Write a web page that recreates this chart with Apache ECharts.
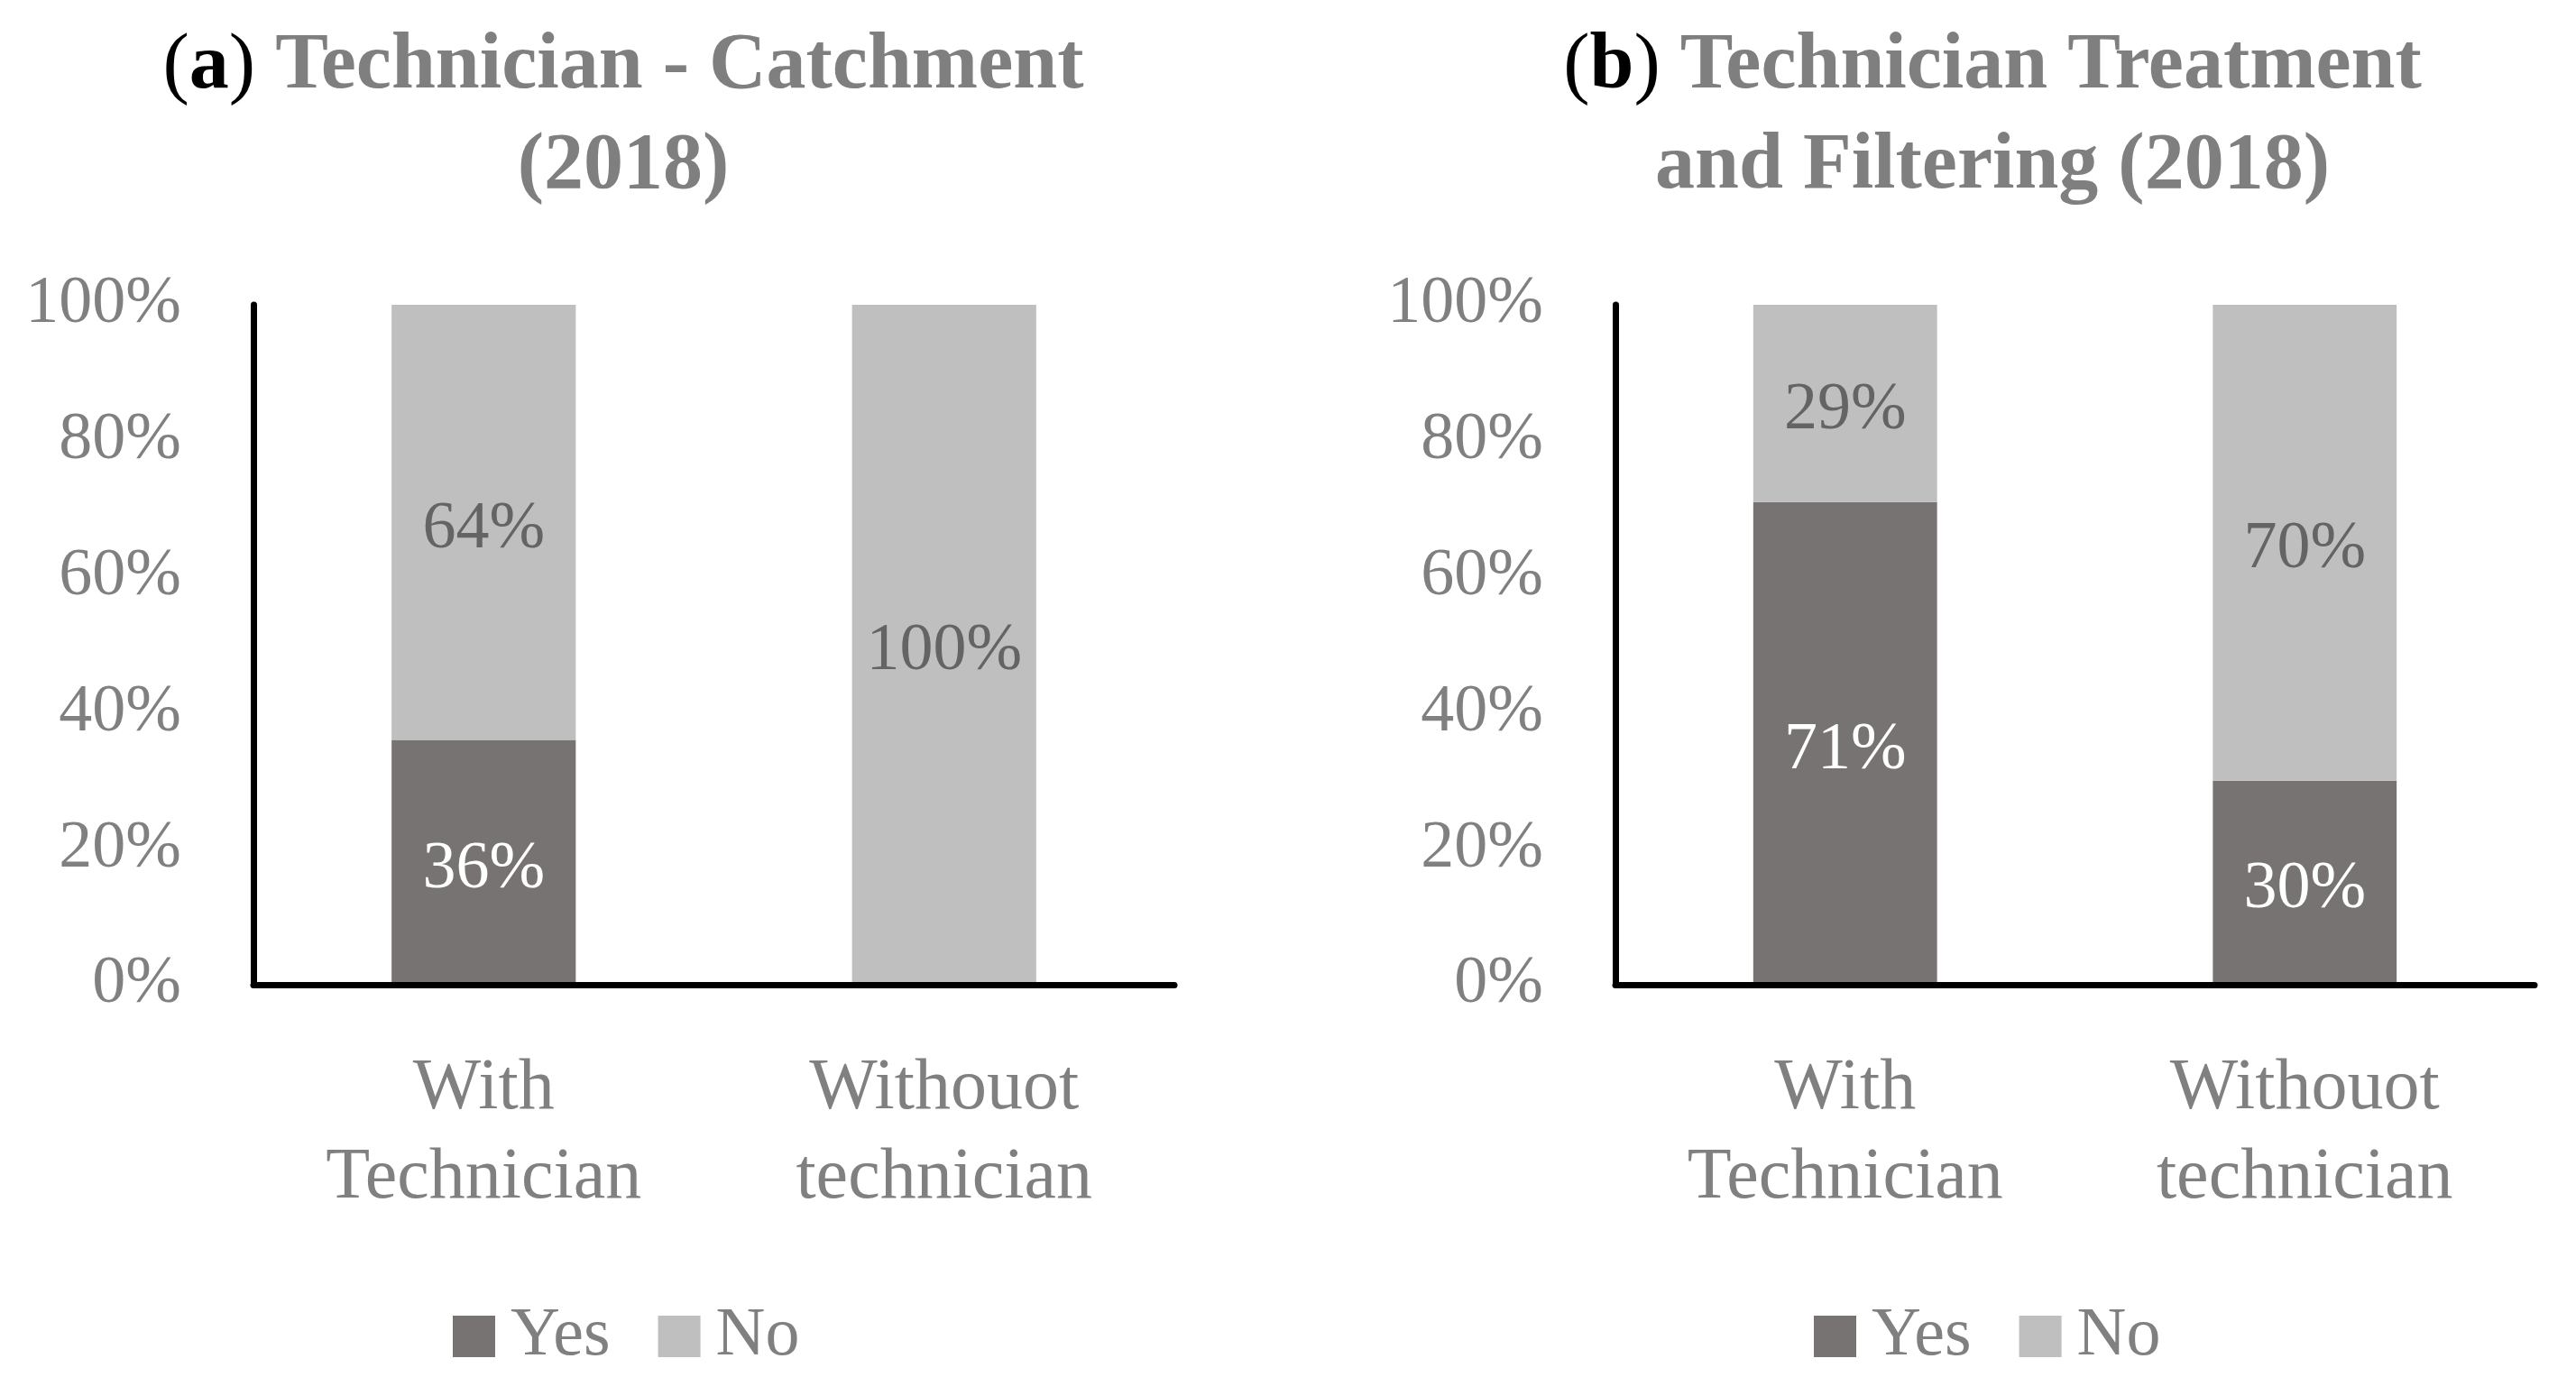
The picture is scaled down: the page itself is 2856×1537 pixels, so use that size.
<!DOCTYPE html>
<html>
<head>
<meta charset="utf-8">
<script src="https://cdn.jsdelivr.net/npm/echarts@6/dist/echarts.min.js"></script>
<style>
html,body{margin:0;padding:0;background:#fff;}
#chart{width:2856px;height:1537px;}
</style>
</head>
<body>
<div id="chart"></div>
<script>
// Data
const categories = ['With\nTechnician', 'Withouot\ntechnician'];
const seriesNames = ['Yes', 'No'];
const catchmentYes = [36, 0];
const catchmentNo = [64, 100];
const treatmentYes = [71, 30];
const treatmentNo = [29, 70];
const yMin = 0, yMax = 100, yInterval = 20;

const FONT = '"Liberation Serif", "DejaVu Serif", serif';
const DARK = '#787373';
const LIGHT = '#bfbfbf';
const TEXT_GRAY = '#808080';

const chart = echarts.init(document.getElementById('chart'));

function titleRich() {
  const base = {fontFamily: FONT, fontSize: 88, lineHeight: 111};
  return {
    p: Object.assign({}, base, {color: '#000', fontWeight: 'normal'}),
    b: Object.assign({}, base, {color: '#000', fontWeight: 'bold'}),
    g: Object.assign({}, base, {color: '#7f7f7f', fontWeight: 'bold'}),
    s: Object.assign({}, base, {color: '#7f7f7f', fontWeight: 'bold'})
  };
}

function yAxis(gridIndex) {
  return {
    type: 'value', gridIndex: gridIndex, min: yMin, max: yMax, interval: yInterval,
    axisLine: {show: true, lineStyle: {color: '#000', width: 7}},
    axisTick: {show: false},
    splitLine: {show: false},
    axisLabel: {formatter: '{value}%', color: TEXT_GRAY, fontFamily: FONT, fontSize: 74, margin: 80},
    z: 5
  };
}
function xAxis(gridIndex) {
  return {
    type: 'category', gridIndex: gridIndex, data: categories,
    axisLine: {show: true, lineStyle: {color: '#000', width: 7}},
    axisTick: {show: false},
    axisLabel: {color: TEXT_GRAY, fontFamily: FONT, fontSize: 80, lineHeight: 99, margin: 66, interval: 0},
    z: 5
  };
}
function labelFmt(p) { return p.value ? p.value + '%' : ''; }
function barSeries(name, data, idx, stack, color, labelColor) {
  return {
    name: name, type: 'bar', stack: stack, xAxisIndex: idx, yAxisIndex: idx,
    data: data, barWidth: '40%',
    itemStyle: {color: color},
    label: {show: true, position: 'inside', offset: [0, 8], formatter: labelFmt, color: labelColor, fontFamily: FONT, fontSize: 74},
    emphasis: {disabled: true}
  };
}
function legend(left) {
  return {
    left: left, top: 1439, orient: 'horizontal', data: seriesNames,
    itemWidth: 47, itemHeight: 46, itemGap: 53, icon: 'rect',
    textStyle: {color: TEXT_GRAY, fontFamily: FONT, fontSize: 76, lineHeight: 76, padding: [0, 0, 0, 12]},
    selectedMode: false
  };
}

chart.setOption({
  animation: false,
  backgroundColor: '#fff',
  title: [
    {
      text: '{p|(}{b|a}{p|)} {g|Technician - Catchment}\n{s|(2018)}',
      left: 686, top: 14, textAlign: 'center',
      textStyle: {rich: titleRich(), fontFamily: FONT, fontSize: 88, lineHeight: 111}
    },
    {
      text: '{p|(}{b|b}{p|)} {g|Technician Treatment}\n{s|and Filtering (2018)}',
      left: 2204, top: 14, textAlign: 'center',
      textStyle: {rich: titleRich(), fontFamily: FONT, fontSize: 88, lineHeight: 111}
    }
  ],
  legend: [legend(497), legend(2006)],
  grid: [
    {left: 281, right: 1554, top: 338, bottom: 445},
    {left: 1791, right: 46, top: 338, bottom: 445}
  ],
  xAxis: [xAxis(0), xAxis(1)],
  yAxis: [yAxis(0), yAxis(1)],
  series: [
    barSeries('Yes', catchmentYes, 0, 'a', DARK, '#ffffff'),
    barSeries('No', catchmentNo, 0, 'a', LIGHT, '#646464'),
    barSeries('Yes', treatmentYes, 1, 'b', DARK, '#ffffff'),
    barSeries('No', treatmentNo, 1, 'b', LIGHT, '#646464')
  ]
});
</script>
</body>
</html>
